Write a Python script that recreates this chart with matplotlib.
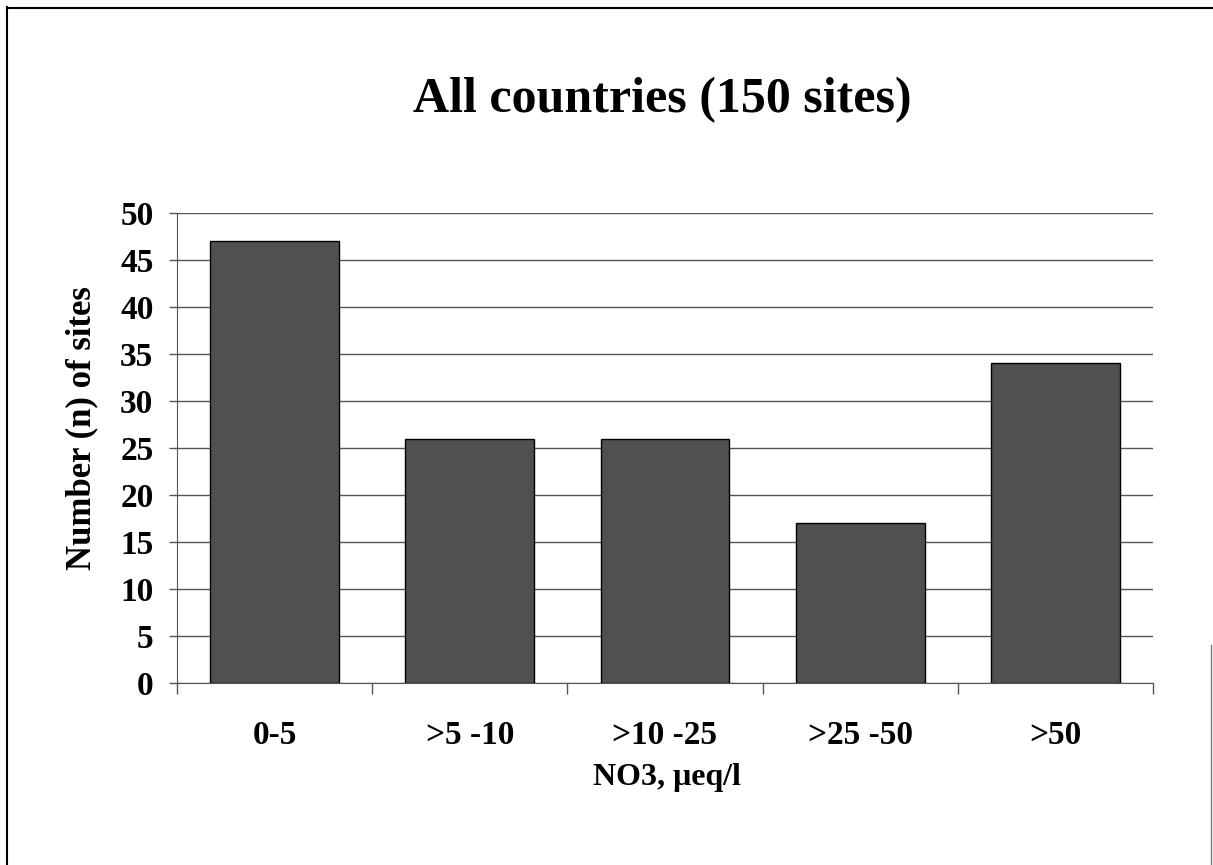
import numpy as np
import matplotlib.pyplot as plt
from matplotlib.lines import Line2D

categories = ['0-5', '>5 -10', '>10 -25', '>25 -50', '>50']
n_sites = [47, 26, 26, 17, 34]

plt.rcParams['font.family'] = ['Liberation Serif', 'DejaVu Serif']
plt.rcParams['font.weight'] = 'bold'

W, H = 1213, 865
fig = plt.figure(figsize=(W/100., H/100.), dpi=100)
ax = fig.add_axes([177./W, 1-683./H, (1153.-177.)/W, (683.-213.)/H])

x = np.arange(len(categories))
ax.bar(x, n_sites, width=0.66, color='#505050', edgecolor='black', lw=1., zorder=3)

ax.set_xlim(-0.5, len(categories)-0.5)
ax.set_ylim(0, 50)
ax.set_yticks(np.arange(0, 51, 5))
ax.yaxis.grid(True, color='#555555', lw=1.)
ax.set_axisbelow(True)

# category boundary ticks
ax.set_xticks(np.arange(-0.5, len(categories), 1.))
ax.set_xticklabels([])
ax.tick_params(axis='x', direction='out', length=8, color='#555555', width=1.)
ax.tick_params(axis='y', direction='out', length=6, color='#555555', width=1.,
               labelsize=24, pad=11)
for lab in ax.get_yticklabels():
	lab.set_fontweight('bold')

for xi, c in zip(x, categories):
	ax.text(xi, -5.6, c, ha='center', va='center', fontsize=24, fontweight='bold')

for s in ['top', 'right']:
	ax.spines[s].set_visible(False)
ax.spines['left'].set_color('#555555')
ax.spines['bottom'].set_color('#555555')

fig.text(662./W, 1-100./H, 'All countries (150 sites)', ha='center', va='center',
         fontsize=36, fontweight='bold')
fig.text(82./W, 1-428./H, 'Number (n) of sites', ha='center', va='center',
         rotation=90, fontsize=25, fontweight='bold')
fig.text(667./W, 1-777./H, 'NO3, \u03bceq/l', ha='center', va='center',
         fontsize=23, fontweight='bold')

# page frame
fig.add_artist(Line2D([7./W, 7./W], [0, 1-7./H], color='black', lw=1.5, transform=fig.transFigure))
fig.add_artist(Line2D([7./W, 1.], [1-8./H, 1-8./H], color='black', lw=1.5, transform=fig.transFigure))
fig.add_artist(Line2D([1211./W, 1211./W], [0, 1-645./H], color='#777777', lw=1., transform=fig.transFigure))

fig.savefig('out.png', dpi=100)
